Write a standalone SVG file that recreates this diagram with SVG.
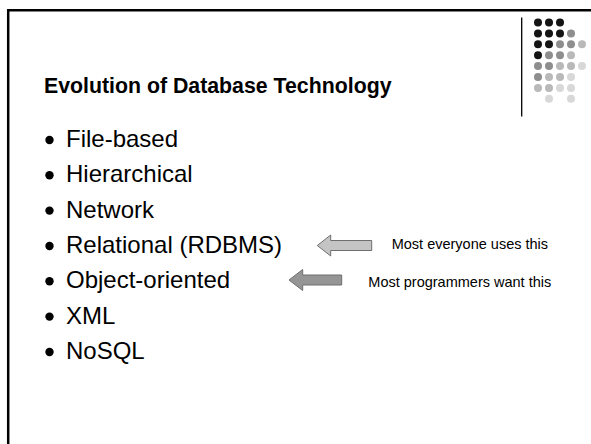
<svg xmlns="http://www.w3.org/2000/svg" width="591" height="444" viewBox="0 0 591 444">
  <style>
    .title { font-family: "Liberation Sans", Arial, sans-serif; font-weight: bold; font-size: 21.3px; fill: #000; }
    .item { font-family: "Liberation Sans", Arial, sans-serif; font-size: 24px; fill: #000; }
    .note { font-family: "Liberation Sans", Arial, sans-serif; font-size: 14.5px; fill: #000; }
    .bullet { fill: #000; }
    .frame { stroke: #000; stroke-width: 2.5; fill: none; }
    .arrow { stroke: #6e6e6e; stroke-width: 1; }
    .d0 { fill: #141414; } .d1 { fill: #8e8e8e; } .d2 { fill: #b9b9b9; } .d3 { fill: #d8d8d8; }
  </style>

  <rect width="591" height="444" fill="#fff"/>

  <!-- slide frame: top and left edges -->
  <path class="frame" d="M8.2,444 V10.2 H591"/>

  <!-- decorative corner: divider and dot matrix -->
  <g id="corner">
    <line x1="521.7" y1="17.5" x2="521.7" y2="116.5" stroke="#000" stroke-width="1.3"/>
    <g id="dots">
      <circle class="d0" cx="538" cy="22.5" r="4"/><circle class="d0" cx="549" cy="22.5" r="4"/><circle class="d0" cx="560" cy="22.5" r="4"/>
      <circle class="d0" cx="538" cy="33.4" r="4"/><circle class="d0" cx="549" cy="33.4" r="4"/><circle class="d0" cx="560" cy="33.4" r="4"/><circle class="d1" cx="571" cy="33.4" r="4"/>
      <circle class="d0" cx="538" cy="44.3" r="4"/><circle class="d0" cx="549" cy="44.3" r="4"/><circle class="d1" cx="560" cy="44.3" r="4"/><circle class="d1" cx="571" cy="44.3" r="4"/><circle class="d2" cx="582" cy="44.3" r="4"/>
      <circle class="d0" cx="538" cy="55.2" r="4"/><circle class="d1" cx="549" cy="55.2" r="4"/><circle class="d1" cx="560" cy="55.2" r="4"/><circle class="d2" cx="571" cy="55.2" r="4"/>
      <circle class="d1" cx="538" cy="66.1" r="4"/><circle class="d1" cx="549" cy="66.1" r="4"/><circle class="d2" cx="560" cy="66.1" r="4"/><circle class="d2" cx="571" cy="66.1" r="4"/><circle class="d3" cx="582" cy="66.1" r="4"/>
      <circle class="d1" cx="538" cy="77" r="4"/><circle class="d2" cx="549" cy="77" r="4"/><circle class="d2" cx="560" cy="77" r="4"/><circle class="d3" cx="571" cy="77" r="4"/>
      <circle class="d2" cx="538" cy="87.9" r="4"/><circle class="d2" cx="549" cy="87.9" r="4"/><circle class="d3" cx="560" cy="87.9" r="4"/><circle class="d3" cx="571" cy="87.9" r="4"/>
      <circle class="d3" cx="549" cy="98.8" r="4"/><circle class="d3" cx="571" cy="98.8" r="4"/>
    </g>
  </g>

  <g id="title">
    <text class="title" x="44" y="93">Evolution of Database Technology</text>
  </g>

  <g id="list">
    <g id="item-file"><circle class="bullet" cx="49.5" cy="140" r="4.2"/><text class="item" x="66" y="147">File-based</text></g>
    <g id="item-hier"><circle class="bullet" cx="49.5" cy="175.3" r="4.2"/><text class="item" x="66" y="182.3">Hierarchical</text></g>
    <g id="item-net"><circle class="bullet" cx="49.5" cy="210.6" r="4.2"/><text class="item" x="66" y="217.6">Network</text></g>
    <g id="item-rel"><circle class="bullet" cx="49.5" cy="246" r="4.2"/><text class="item" x="66" y="253">Relational (RDBMS)</text></g>
    <g id="item-oo"><circle class="bullet" cx="49.5" cy="281.3" r="4.2"/><text class="item" x="66" y="288.3">Object-oriented</text></g>
    <g id="item-xml"><circle class="bullet" cx="49.5" cy="316.6" r="4.2"/><text class="item" x="66" y="323.6">XML</text></g>
    <g id="item-nosql"><circle class="bullet" cx="49.5" cy="352" r="4.2"/><text class="item" x="66" y="359">NoSQL</text></g>
  </g>

  <g id="connectors">
    <polygon class="arrow" fill="#c4c4c4" points="317.3,245.5 330.7,235 330.7,240.5 371.7,240.5 371.7,250.5 330.7,250.5 330.7,256"/>
    <polygon class="arrow" fill="#959595" points="289,280 302.7,269.5 302.7,275 341.7,275 341.7,285 302.7,285 302.7,290.5"/>
  </g>

  <g id="notes">
    <text class="note" x="391.7" y="249.3">Most everyone uses this</text>
    <text class="note" x="368.3" y="286.7">Most programmers want this</text>
  </g>
</svg>
